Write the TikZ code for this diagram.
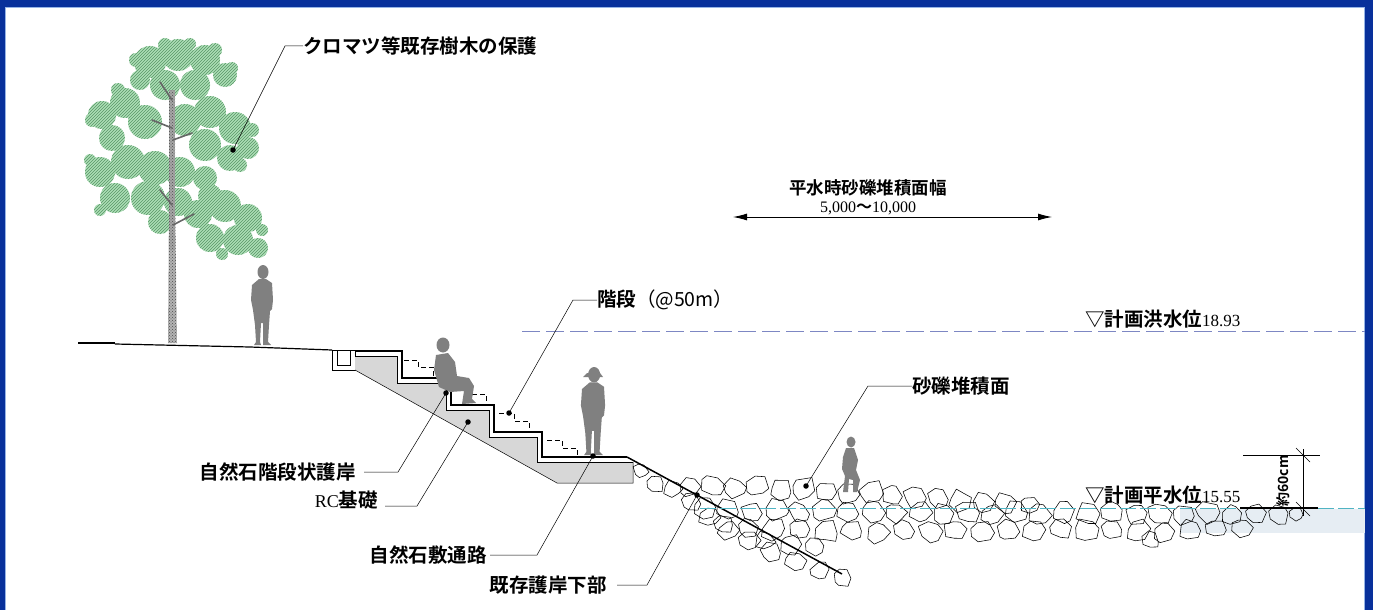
\documentclass[tikz,border=0pt]{standalone}
\usepackage{fontspec}
\setmainfont{Liberation Serif}
\newfontfamily\jp{Noto Sans CJK JP}[BoldFont={Noto Sans CJK JP Bold}]
\usetikzlibrary{arrows.meta,patterns}

\definecolor{frameblue}{RGB}{8,48,155}
\definecolor{frameedge}{RGB}{150,180,230}
\definecolor{leafgreen}{RGB}{172,222,182}
\definecolor{leafdark}{RGB}{88,150,102}
\definecolor{figgray}{RGB}{128,128,128}
\definecolor{concrete}{RGB}{215,215,215}
\definecolor{floodline}{RGB}{125,135,195}
\definecolor{waterline}{RGB}{80,180,195}
\definecolor{waterfill}{RGB}{230,237,243}

\tikzset{
  lbl/.style={font=\jp\bfseries\fontsize{19.5}{22}\selectfont, inner sep=0pt},
  leader/.style={line width=0.5pt},
  ldot/.style={circle, fill=black, inner sep=0pt, minimum size=5.5pt},
  thickline/.style={line width=1.4pt, line join=miter},
  thinline/.style={line width=0.5pt},
  stepdash/.style={line width=0.6pt, dash pattern=on 5pt off 3pt},
  rock/.style={draw=black, line width=0.55pt, line join=round},
  standing/.pic={
    \fill[figgray] (1,-73) ellipse[x radius=5.5, y radius=7];
    \fill[figgray] (-3,-66) -- (4,-66) -- (10,-62) -- (11,-45) -- (10,-36) -- (8,-34)
      -- (7,-20) -- (6,-3) -- (9,0) -- (1,0) -- (1,-22) -- (-1,-22) -- (-2,-3)
      -- (-1,0) -- (-8,0) -- (-6,-3) -- (-7,-20) -- (-9,-35) -- (-11,-45)
      -- (-10,-60) -- cycle;
  }
}

\begin{document}
\begin{tikzpicture}[x=1pt,y=-1pt]
\useasboundingbox (0,0) rectangle (1373,610);

% frame
\fill[frameblue] (0,0) rectangle (1373,610);
\fill[white] (5,7) rectangle (1365,610);
\draw[frameedge, line width=0.8pt] (5.4,610) -- (5.4,7.4) -- (1364.6,7.4) -- (1364.6,610);

% ---------------- tree ----------------
\def\foliage{
  {150,62}/16, {178,55}/16, {205,60}/15, {225,75}/12, {165,85}/15, {195,85}/15, {140,80}/10,
  {165,45}/7, {190,44}/6, {215,50}/7, {232,68}/6, {136,60}/7,
  {102,115}/14, {125,103}/15, {145,122}/17, {112,138}/13, {92,120}/7, {118,90}/7,
  {185,120}/16, {210,112}/16, {235,128}/16, {248,148}/11, {205,145}/16, {230,158}/13,
  {252,130}/7, {240,165}/7,
  {100,172}/15, {128,162}/17, {155,168}/17, {180,172}/15, {205,178}/12, {90,160}/6,
  {115,198}/15, {148,198}/17, {178,202}/14, {210,196}/12, {160,222}/12, {100,210}/6,
  {198,214}/14, {225,206}/16, {248,218}/14, {210,238}/14, {238,240}/15, {258,248}/10,
  {262,230}/6, {222,254}/6}
\fill[figgray!60] (168,343) -- (177,343) -- (175,200) -- (174,75) -- (171,75) -- (169,200) -- cycle;
\fill[pattern=crosshatch dots, pattern color=black!70] (168,343) -- (177,343) -- (175,200) -- (174,75) -- (171,75) -- (169,200) -- cycle;
\fill[leafgreen] \foreach \p/\r in \foliage {(\p) circle[radius=\r]};
\fill[pattern=north east lines, pattern color=leafdark] \foreach \p/\r in \foliage {(\p) circle[radius=\r]};
\fill[figgray!70] (169,90) rectangle (175,250);
\fill[pattern=crosshatch dots, pattern color=black!70] (169,90) rectangle (175,250);
\draw[figgray!80!black, line width=1.6pt, line cap=round]
  (172,100) -- (160,82)  (172,128) -- (152,120)  (173,140) -- (192,133)
  (172,205) -- (160,190) (173,225) -- (194,214);

% ---------------- ground and gutter ----------------
\draw[line width=1.8pt] (78,343) -- (115,343);
\draw[line width=1.2pt] (115,344) -- (250,347) -- (332,350);
\draw[thinline] (332,350) -- (332,370) -- (355,370) -- (355,351);
\draw[thinline] (337,351) -- (337,365) -- (350,365) -- (350,351);
\draw[thinline] (332,350.5) -- (355,350.5);

% ---------------- RC foundation and stone steps ----------------
\fill[concrete] (355,356) -- (397,356) -- (397,383) -- (446,383) -- (446,410)
  -- (489,410) -- (489,437) -- (537,437) -- (537,462) -- (633,462)
  -- (633,483) -- (557,483) -- (355,370) -- cycle;
\draw[thinline] (355,370) -- (557,483) -- (633,483) -- (633,462);
\draw[thinline] (355,356) -- (397,356) -- (397,383) -- (446,383) -- (446,410)
  -- (489,410) -- (489,437) -- (537,437) -- (537,462) -- (633,462);
\draw[thickline] (355,351) -- (402,351) -- (402,378) -- (451,378) -- (451,405)
  -- (494,405) -- (494,432) -- (542,432) -- (542,457) -- (627,457);

% small dashed step profiles on each tread
\draw[stepdash] (404,360) -- (418,360) -- (418,367) -- (433,367) -- (433,378);
\draw[stepdash] (456,386) -- (471,386) -- (471,394) -- (486,394) -- (486,405);
\draw[stepdash] (499,413) -- (514,413) -- (514,421) -- (529,421) -- (529,432);
\draw[stepdash] (547,440) -- (562,440) -- (562,448) -- (577,448) -- (577,457);

% ---------------- water surfaces ----------------
\fill[waterfill] (1180,509) rectangle (1365,533);
\draw[floodline, line width=0.9pt, dash pattern=on 18pt off 6pt] (522,331) -- (1365,331);

% ---------------- gravel bed ----------------
\pgfmathsetseed{41}
\foreach \x/\y/\r in {
  641/471/8, 655/484/9, 673/489/9, 691/502/10,
  710/516/11, 729/530/11, 749/541/11, 771/551/11, 795/561/11, 820/571/10, 842/578/9,
  690/487/11, 712/486/12, 735/488/11, 757/486/12, 780/490/11, 803/488/12, 826/492/11,
  848/493/11, 870/492/12, 893/495/11, 915/497/12, 938/498/11, 960/500/12, 983/502/11,
  1005/503/11, 1030/505/10,
  705/508/11, 728/510/12, 752/512/11, 776/509/12, 800/512/11, 824/510/12, 848/512/11,
  872/511/12, 896/513/11, 920/511/12, 944/514/11, 968/512/12, 992/514/11, 1016/512/12,
  1040/514/11, 1064/512/12, 1088/514/11, 1112/512/12, 1136/514/11, 1160/513/12,
  1184/515/11, 1208/513/12, 1232/515/11, 1256/514/11, 1279/515/10, 1296/514/7,
  724/524/10, 748/528/11, 774/530/12, 800/529/11, 826/531/12, 852/530/11, 878/532/12,
  904/530/11, 930/532/12, 956/530/11, 982/532/12, 1008/530/11, 1034/531/12, 1060/529/11,
  1086/531/12, 1112/529/11, 1138/531/12, 1164/532/11, 1190/530/11, 1216/528/10,
  1242/528/10, 765/540/10, 790/545/11, 815/546/10, 1150/540/9}
{
  \draw[rock] plot[samples at={0,50,...,310}, variable=\t]
    ({\x+\r*(0.85+0.3*rnd)*cos(\t+14*rand)}, {\y+\r*(0.75+0.3*rnd)*sin(\t+14*rand)}) -- cycle;
}
\draw[line width=1.5pt] (627,457) -- (842,574);
\draw[waterline, line width=0.9pt, dash pattern=on 16pt off 4pt] (700,508) -- (1240,508);
\draw[waterline, line width=0.9pt, dash pattern=on 16pt off 4pt] (1318,508) -- (1365,508);

% ---------------- dimension: about 60 cm ----------------
\draw[line width=1.1pt] (1240,508) -- (1318,508);
\draw[thinline] (1243,455) -- (1320,455);
\draw[thinline] (1303,449) -- (1303,516);
\draw[thinline] (1296,448) -- (1310,462);
\draw[thinline] (1296,502) -- (1310,516);
\node[rotate=90, font=\jp\bfseries\fontsize{14}{16}\selectfont, inner sep=0pt] (dim60) at (1283,481) {約60cm};

% ---------------- figures ----------------
\pic at (262,345) {standing};
\pic[scale=1.1] at (593,455) {standing};
\fill[figgray] (583,377) -- (603,377) -- (600,373) -- (587,373) -- cycle;
% seated figure on the steps
\fill[figgray] (443,345) ellipse[x radius=6.5, y radius=7.5];
\fill[figgray] (436,355) -- (448,353) -- (455,362) -- (457,376) -- (469,378) -- (474,386)
  -- (472,399) -- (476,403) -- (462,404) -- (464,391) -- (450,392) -- (439,387)
  -- (434,370) -- cycle;
% small walking figure on the gravel
\fill[figgray] (851,442) ellipse[x radius=4.5, y radius=5.5];
\fill[figgray] (846,448) -- (854,448) -- (858,460) -- (856,470) -- (860,480) -- (857,492)
  -- (853,492) -- (853,480) -- (849,479) -- (848,492) -- (843,492) -- (845,476)
  -- (842,469) -- (843,457) -- cycle;

% ---------------- dimension arrow ----------------
\coordinate (arrL) at (733,217);
\coordinate (arrR) at (1052,217);
\draw[line width=0.9pt, {Latex[length=14pt,width=7pt]}-{Latex[length=14pt,width=7pt]}] (arrL) -- (arrR);
\node[lbl, font=\jp\bfseries\fontsize{17.5}{20}\selectfont] (wtitle) at (868,188) {平水時砂礫堆積面幅};
\node[inner sep=0pt, font=\fontsize{16}{18}\selectfont] (wval) at (868,208) {5,000{\jp\bfseries ～}10,000};

% ---------------- water level labels ----------------
\node[lbl, anchor=base west] (hwl) at (1085,326) {▽計画洪水位{\normalfont\fontsize{17}{20}\selectfont 18.93}};
\node[lbl, anchor=base west] (lwl) at (1085,502) {▽計画平水位{\normalfont\fontsize{17}{20}\selectfont 15.55}};

% ---------------- leaders and labels ----------------
\node[ldot] (dTree) at (233,150) {};
\coordinate (cTree) at (285,46);
\node[lbl, anchor=west] (tTree) at (303,46) {クロマツ等既存樹木の保護};
\draw[leader] (dTree.center) -- (cTree) -- (tTree.west);

\node[ldot] (dStep) at (509,413) {};
\coordinate (cStep) at (573,300);
\node[lbl, anchor=west] (tStep) at (597,300) {階段{\mdseries（@50m）}};
\draw[leader] (dStep.center) -- (cStep) -- (tStep.west);

\node[ldot] (dGravel) at (806,486) {};
\coordinate (cGravel) at (868,386);
\node[lbl, anchor=west] (tGravel) at (912,386) {砂礫堆積面};
\draw[leader] (dGravel.center) -- (cGravel) -- (tGravel.west);

\node[ldot] (dRevet) at (446,393) {};
\coordinate (cRevet) at (398,472);
\node[lbl, anchor=east] (tRevet) at (356,472) {自然石階段状護岸};
\draw[leader] (dRevet.center) -- (cRevet) -- ([xshift=8pt]tRevet.east);

\node[ldot] (dRC) at (468,422) {};
\coordinate (cRC) at (417,506);
\node[lbl, anchor=east] (tRC) at (378,500) {{\normalfont\mdseries\fontsize{18}{20}\selectfont RC}基礎};
\draw[leader] (dRC.center) -- (cRC) -- ([xshift=7pt,yshift=-6pt]tRC.east);

\node[ldot] (dPath) at (593,456) {};
\coordinate (cPath) at (537,555);
\node[lbl, anchor=east] (tPath) at (487,555) {自然石敷通路};
\draw[leader] (dPath.center) -- (cPath) -- ([xshift=3pt]tPath.east);

\node[ldot] (dOld) at (697,495) {};
\coordinate (cOld) at (647,585);
\node[lbl, anchor=east] (tOld) at (607,585) {既存護岸下部};
\draw[leader] (dOld.center) -- (cOld) -- ([xshift=10pt]tOld.east);
\end{tikzpicture}
\end{document}
